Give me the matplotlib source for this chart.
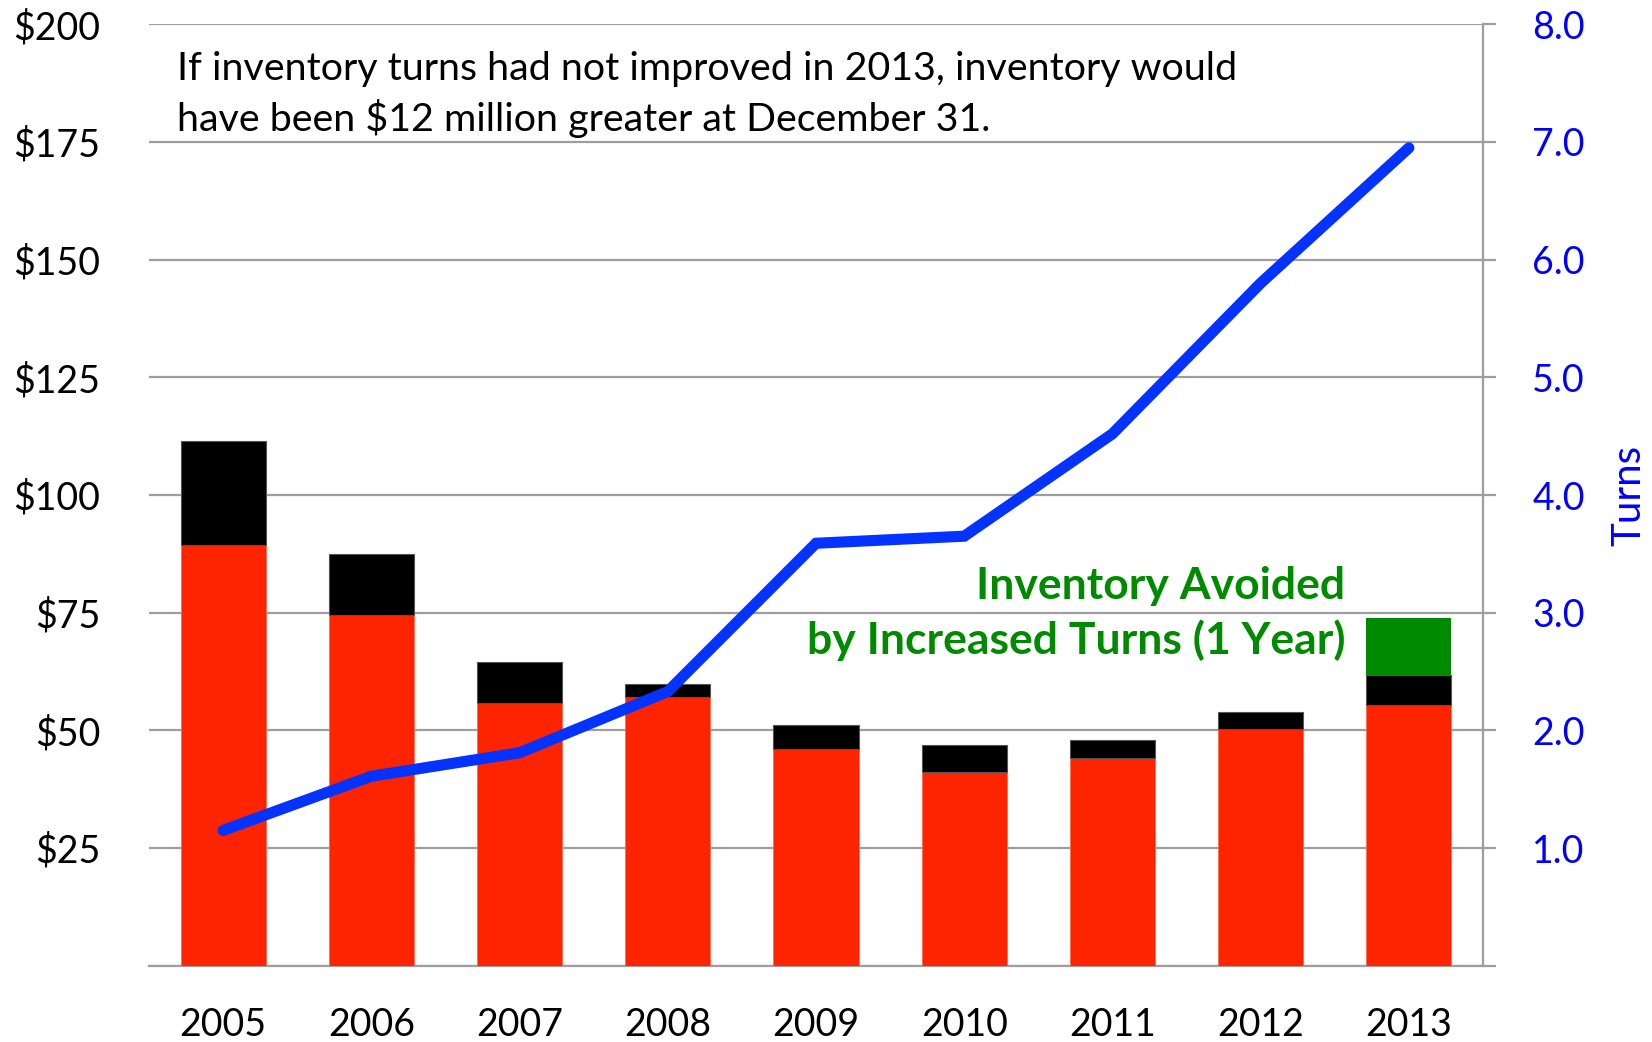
import matplotlib
matplotlib.use("Agg")
import matplotlib.pyplot as plt
import numpy as np

plt.rcParams['font.family'] = ['Lato', 'DejaVu Sans']

# Inventory ($ millions) by year, stacked components
years = ['2005', '2006', '2007', '2008', '2009', '2010', '2011', '2012', '2013']
inventory_base = [89.3, 74.5, 55.9, 57.1, 46.0, 41.1, 44.1, 50.2, 55.3]
inventory_extra = [22.2, 12.9, 8.6, 2.7, 5.1, 5.8, 3.8, 3.8, 6.5]
inventory_avoided = [0, 0, 0, 0, 0, 0, 0, 0, 12.0]

# Inventory turns
turns = [1.15, 1.61, 1.81, 2.33, 3.59, 3.65, 4.52, 5.80, 6.95]

left_ticks = [0, 25, 50, 75, 100, 125, 150, 175, 200]
left_labels = ['', '$25', '$50', '$75', '$100', '$125', '$150', '$175', '$200']
right_ticks = [0, 1, 2, 3, 4, 5, 6, 7, 8]
right_labels = ['', '1.0', '2.0', '3.0', '4.0', '5.0', '6.0', '7.0', '8.0']

RED = '#FF2400'
GREEN = '#008A00'
LINE_BLUE = '#0433FF'
TEXT_BLUE = '#0000FF'
GRID = '#9E9E9E'

fig = plt.figure(figsize=(16.52, 10.42), dpi=100)
ax = fig.add_axes([0.0902, 0.0732, 0.8075, 0.9035])
x = np.arange(len(years))
w = 0.574

base = np.array(inventory_base)
extra = np.array(inventory_extra)
avoided = np.array(inventory_avoided)

ax.bar(x, base, width=w, color=RED, edgecolor='#FF6A50', linewidth=0.6, zorder=3)
ax.bar(x, extra, width=w, bottom=base, color='black', edgecolor='#555555',
       linewidth=0.8, zorder=3)
ax.bar(x, avoided, width=w, bottom=base + extra, color=GREEN, linewidth=0, zorder=3)

ax.set_xlim(-0.5, len(years) - 0.5)
ax.set_ylim(0, 200)
ax.set_yticks(left_ticks)
ax.set_yticklabels(left_labels)
ax.tick_params(axis='y', length=0, pad=35, labelsize=27)
ax.set_xticks(x)
ax.set_xticklabels(years)
ax.tick_params(axis='x', length=0, pad=30, labelsize=27)
ax.yaxis.grid(True, color=GRID, linewidth=1.6, zorder=0)
ax.set_axisbelow(True)
for s in ['left', 'top', 'right']:
    ax.spines[s].set_visible(False)
ax.spines['bottom'].set_color(GRID)
ax.spines['bottom'].set_linewidth(1.6)

ax2 = ax.twinx()
ax2.set_ylim(0, 8)
ax2.plot(x, turns, color=LINE_BLUE, linewidth=8, solid_capstyle='round',
         solid_joinstyle='miter', zorder=5)
ax2.set_yticks(right_ticks)
ax2.set_yticklabels(right_labels)
ax2.tick_params(axis='y', length=9.5, width=1.6, color=GRID, pad=26,
                labelsize=27, labelcolor=TEXT_BLUE)
for s in ['left', 'top', 'bottom']:
    ax2.spines[s].set_visible(False)
ax2.spines['right'].set_color(GRID)
ax2.spines['right'].set_linewidth(1.6)
ax2.text(1.109, 0.5, 'Turns', transform=ax2.transAxes, rotation=90,
         color=TEXT_BLUE, fontsize=29, ha='center', va='center')

ax.text(-0.31, 177.4,
        'If inventory turns had not improved in 2013, inventory would\n'
        'have been $12 million greater at December 31.',
        fontsize=28.4, color='black', va='baseline', ha='left',
        linespacing=1.36)

ax.text(7.57, 66.2, 'Inventory Avoided\nby Increased Turns (1 Year)',
        fontsize=32, fontweight='bold', color=GREEN, ha='right', va='baseline',
        linespacing=1.38, zorder=6)

fig.savefig('out.png', dpi=100)
